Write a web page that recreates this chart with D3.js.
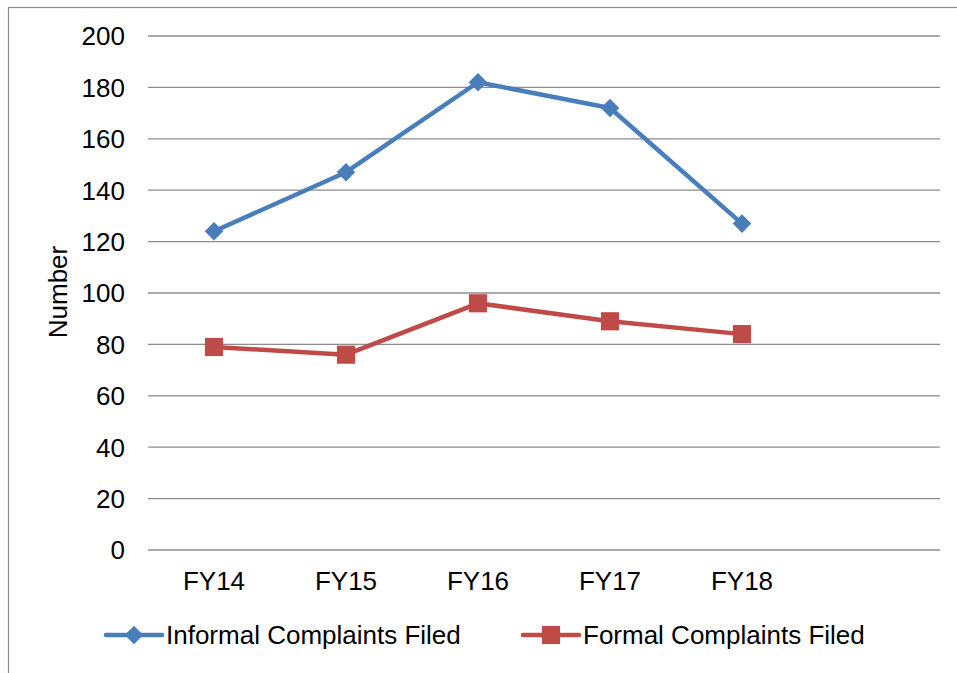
<html>
<script src='https://d3js.org/d3.v7.min.js'></script>
<style>
body { margin: 0; background: #fff; }
text { font-family: 'Liberation Sans', Arial, sans-serif; fill: #000; }
</style>
<body>
<script>
var categories = ['FY14', 'FY15', 'FY16', 'FY17', 'FY18', ''];
var informal = [124, 147, 182, 172, 127];
var formal = [79, 76, 96, 89, 84];
var yTicks = [0, 20, 40, 60, 80, 100, 120, 140, 160, 180, 200];
var seriesNames = ['Informal Complaints Filed', 'Formal Complaints Filed'];
var seriesColors = ['#4a7ebb', '#be4b48'];

var W = 957, H = 673;
var margin = {top: 36, right: 17, bottom: 123, left: 148};
var width = W - margin.left - margin.right,
    height = H - margin.top - margin.bottom;
var fs = '26px';

var svg = d3.select('body').append('svg')
    .attr('width', W).attr('height', H);

// outer chart border
svg.append('rect')
    .attr('x', 8.5).attr('y', 7.5)
    .attr('width', 1000).attr('height', 1000)
    .attr('fill', 'none').attr('stroke', '#8c8c8c').attr('stroke-width', 1.2);

var g = svg.append('g').attr('transform', 'translate(' + margin.left + ',' + margin.top + ')');

var x = d3.scaleBand().domain(categories).range([0, width]);
var y = d3.scaleLinear().domain([0, 200]).range([height, 0]);

// gridlines
g.selectAll('.grid').data(yTicks).enter().append('line')
    .attr('x1', 0).attr('x2', width)
    .attr('y1', function(d) { return y(d); })
    .attr('y2', function(d) { return y(d); })
    .attr('stroke', '#8c8c8c').attr('stroke-width', 1.3);

// y labels
g.selectAll('.ylab').data(yTicks).enter().append('text')
    .attr('x', -23).attr('y', function(d) { return y(d); })
    .attr('dy', '0.36em').attr('text-anchor', 'end')
    .style('font-size', fs)
    .text(function(d) { return d; });

// x labels
g.selectAll('.xlab').data(categories).enter().append('text')
    .attr('x', function(d) { return x(d) + x.bandwidth() / 2; })
    .attr('y', height + 40)
    .attr('text-anchor', 'middle')
    .style('font-size', fs)
    .text(function(d) { return d; });

// y axis title
g.append('text')
    .attr('transform', 'translate(-81,' + 256 + ') rotate(-90)')
    .attr('text-anchor', 'middle')
    .style('font-size', fs)
    .text('Number');

var line = d3.line()
    .x(function(d, i) { return x(categories[i]) + x.bandwidth() / 2; })
    .y(function(d) { return y(d); });

[informal, formal].forEach(function(vals, s) {
  g.append('path').datum(vals)
      .attr('d', line)
      .attr('fill', 'none')
      .attr('stroke', seriesColors[s])
      .attr('stroke-width', 4.5)
      .attr('stroke-linejoin', 'round');
  g.selectAll('.m' + s).data(vals).enter().append('path')
      .attr('transform', function(d, i) {
        return 'translate(' + (x(categories[i]) + x.bandwidth() / 2) + ',' + y(d) + ')';
      })
      .attr('d', s === 0 ? d3.symbol().type(d3.symbolDiamond2).size(220)() : d3.symbol().type(d3.symbolSquare).size(330)())
      .attr('fill', seriesColors[s]);
});

// legend
var legendX = [106, 523];
seriesNames.forEach(function(name, s) {
  var lg = svg.append('g').attr('transform', 'translate(' + legendX[s] + ',635)');
  lg.append('line').attr('x1', 0).attr('x2', 56)
      .attr('stroke', seriesColors[s]).attr('stroke-width', 4.5).attr('stroke-linecap', 'round');
  lg.append('path')
      .attr('transform', 'translate(28,0)')
      .attr('d', s === 0 ? d3.symbol().type(d3.symbolDiamond2).size(220)() : d3.symbol().type(d3.symbolSquare).size(330)())
      .attr('fill', seriesColors[s]);
  lg.append('text').attr('x', 60).attr('dy', '0.36em')
      .style('font-size', fs)
      .text(name);
});
</script>
</body>
</html>
